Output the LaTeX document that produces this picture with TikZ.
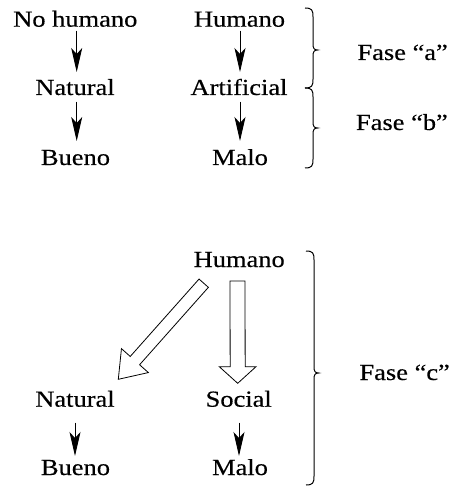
\documentclass[tikz,border=0pt]{standalone}
\usepackage{fontspec}
\setmainfont{Liberation Serif}[FakeStretch=1.15,FakeBold=0.4]
\usetikzlibrary{arrows.meta,calc}

\tikzset{
  lbl/.style={inner sep=0pt, anchor=base, font=\fontsize{23}{27}\selectfont},
  fase/.style={lbl, anchor=base east},
  arr/.style={line width=0.9pt, -{Stealth[length=24pt,width=11pt,inset=6pt]}},
  hollow/.style={line width=0.8pt, fill=white, line join=miter},
  brc/.style={line width=1pt}
}

% right-hand curly brace: shaft x, top y, tip y, bottom y
\newcommand{\phasebrace}[4]{%
  \draw[brc] (#1-8,#2) .. controls (#1-1,#2) and (#1,#2+2) .. (#1,#2+9)
    -- (#1,#3-6) .. controls (#1,#3-2) and (#1+1,#3) .. (#1+4.5,#3)
    .. controls (#1+1,#3) and (#1,#3+2) .. (#1,#3+6)
    -- (#1,#4-9) .. controls (#1,#4-2) and (#1-1,#4) .. (#1-8,#4);}

% outlined block arrow from #1 to #2: shaft width #3, head width #4, head length #5
\newcommand{\blockarrow}[5]{%
  \coordinate (ba-b) at ($(#2)!#5!(#1)$);
  \draw[hollow] ($(#1)!#3/2!90:(#2)$) -- ($(ba-b)!#3/2!-90:(#1)$)
    -- ($(ba-b)!#4/2!-90:(#1)$) -- (#2) -- ($(ba-b)!#4/2!90:(#1)$)
    -- ($(ba-b)!#3/2!90:(#1)$) -- ($(#1)!#3/2!-90:(#2)$) -- cycle;}

\begin{document}
\begin{tikzpicture}[x=1pt,y=-1pt]
\useasboundingbox (0,0) rectangle (450,486);

% phases a and b
\node[lbl] (nh)  at (75.3,26.7) {No humano};
\node[lbl] (nat) at (75,95)     {Natural};
\node[lbl] (bue) at (75.5,165)  {Bueno};
\node[lbl] (hum) at (239.5,26.7) {Humano};
\node[lbl] (art) at (239,95)     {Artificial};
\node[lbl] (mal) at (240,165)    {Malo};

% y grows downwards, so a positive y shift moves down
\draw[arr] ([shift={(1.4,4)}]nh.base) -- ([shift={(1.7,-23)}]nat.base);
\draw[arr] ([shift={(1.7,6.7)}]nat.base) -- ([shift={(1.2,-24)}]bue.base);
\draw[arr] ([shift={(0.5,4)}]hum.base) -- ([shift={(1,-23)}]art.base);
\draw[arr] ([shift={(1,6.7)}]art.base) -- ([shift={(0,-24)}]mal.base);

\phasebrace{313}{8}{50}{88}
\phasebrace{313}{88}{128}{168}
\node[fase] (fa) at (448,60)  {Fase “a”};
\node[fase] (fb) at (448,130) {Fase “b”};

% phase c
\node[lbl] (hum2) at (239.2,267)   {Humano};
\node[lbl] (nat2) at (75,406.7)    {Natural};
\node[lbl] (soc)  at (238.7,406.7) {Social};
\node[lbl] (bue2) at (75.5,475)    {Bueno};
\node[lbl] (mal2) at (240,475)     {Malo};

\coordinate (d-s) at ($(hum2.base)+(-35.5,16.2)$);
\coordinate (d-t) at ($(nat2.base)+(43.3,-27.4)$);
\coordinate (v-s) at ($(hum2.base)+(-1.7,14)$);
\coordinate (v-t) at ($(soc.base)+(-1,-23.4)$);
\blockarrow{d-s}{d-t}{12.5pt}{36pt}{25pt}
\blockarrow{v-s}{v-t}{15pt}{36.7pt}{16.6pt}

\draw[arr] ([shift={(0,16)}]nat2.base) -- ([shift={(-0.5,-19)}]bue2.base);
\draw[arr] ([shift={(0.3,16)}]soc.base) -- ([shift={(-1,-19)}]mal2.base);

\phasebrace{314}{251}{373}{485}
\node[fase] (fc) at (450,380) {Fase “c”};
\end{tikzpicture}
\end{document}
